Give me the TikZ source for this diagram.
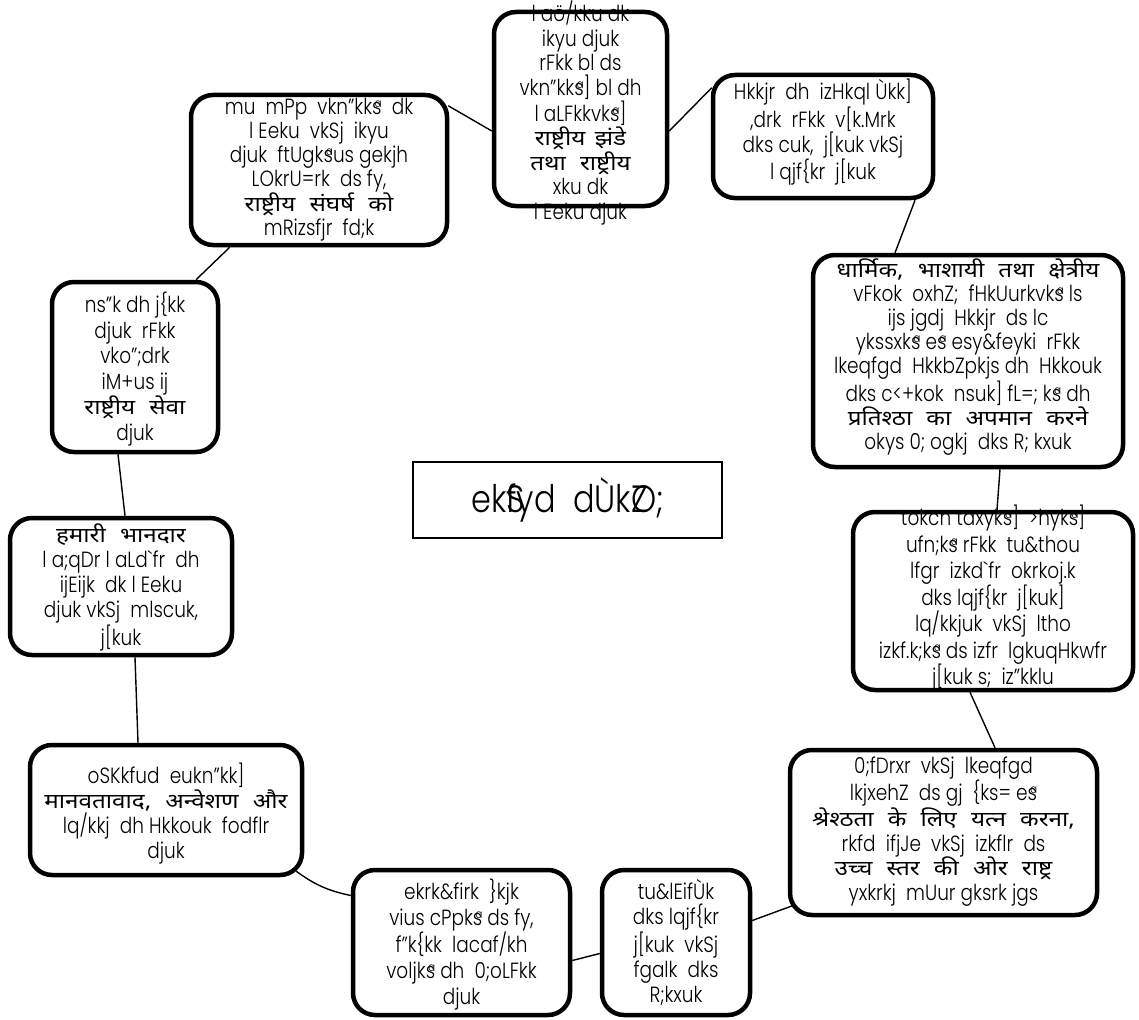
\documentclass[tikz,border=0pt]{standalone}
\usepackage{fontspec}
\usetikzlibrary{calc}
\newfontfamily\kd[FakeStretch=0.84]{Poppins Light}
\newfontfamily\dev[Script=Devanagari,Scale=0.95,FakeStretch=1.16,WordSpace=1.5]{Noto Sans}
\newcommand\hb[1]{{\dev\bfseries #1}}
% glyph drawn without advancing, as in the legacy-font rendering
\newcommand\z[1]{\rlap{#1}}
% small overlaid nasal mark
\newcommand\an{\llap{\raisebox{.32em}{\fontsize{12}{12}\selectfont a}}}
\begin{document}
\begin{tikzpicture}[x=1pt,y=-1pt,
  card/.style={draw,line width=4.5pt,rounded corners=22pt,inner sep=0pt},
  txt/.style={align=center,inner sep=0pt,font=\kd\fontsize{22}{#1}\selectfont},
  link/.style={line width=1.4pt}]
\useasboundingbox (0,0) rectangle (1139,1019);

% frames
\node[card,minimum width=173pt,minimum height=194pt] (n1) at (580.5,109) {};
\node[card,minimum width=220pt,minimum height=123pt] (n2) at (823,136.5) {};
\node[card,minimum width=256pt,minimum height=150pt] (n3) at (319,170) {};
\node[card,minimum width=166pt,minimum height=170pt] (n4) at (135,367) {};
\node[card,minimum width=310pt,minimum height=212pt] (n5) at (968,361) {};
\node[card,minimum width=222pt,minimum height=137pt] (n6) at (121,586.5) {};
\node[card,minimum width=280pt,minimum height=178pt] (n7) at (993,601) {};
\node[card,minimum width=272pt,minimum height=130pt] (n8) at (166,810) {};
\node[card,minimum width=307pt,minimum height=165pt] (n9) at (943.5,832.5) {};
\node[card,minimum width=217pt,minimum height=145pt] (n10) at (461.5,942.5) {};
\node[card,minimum width=148pt,minimum height=145pt] (n11) at (676,942.5) {};
\node[draw,line width=1.5pt,minimum width=309pt,minimum height=76pt,
      font=\kd\fontsize{38}{40}\selectfont] (ctr) at (567.5,500) {ek\z{S}fyd\ \ dÙk\z{Z}O;};

% texts
\node[txt=24.5] (t1) at ($(n1)+(0,4)$) {l aö/kku dk\\ ikyu djuk\\ rFkk bl ds\\ vkn”kks\an] bl dh\\ l aLFkkvks\an]\\
  \hb{राष्ट्रीय झंडे}\\ \hb{तथा राष्ट्रीय}\\ xku dk\\ l Eeku djuk};
\node[txt=21.7] (t2) at ($(n2)+(0,-4)$) {Hkkjr\ \ dh\ \ izHkql Ùkk]\\ ,drk\ \ rFkk\ \ v[k.Mrk\\ dks cuk,\ \ j[kuk vkSj\\ l qjf\{kr\ \ j[kuk};
\node[txt=24] (t3) at (n3) {mu\ \ mPp\ \ vkn”kks\an\ \ dk\\ l Eeku\ \ vkSj\ \ ikyu\\ djuk\ \ ftUgks\an us gekjh\\ LOkrU=rk\ \ ds fy,\\
  \hb{राष्ट्रीय संघर्ष को}\\ mRizsfjr\ \ fd;k};
\node[txt=25.6] (t4) at ($(n4)+(0,2)$) {ns”k dh j\{kk\\ djuk\ \ rFkk\\ vko”;drk\\ iM+us ij\\ \hb{राष्ट्रीय सेवा}\\ djuk};
\node[txt=24] (t5) at ($(n5)+(0,-4)$) {\hb{धार्मिक, भाशायी तथा क्षेत्रीय}\\ vFkok\ \ oxhZ;\ \ fHkUurkvks\an\ ls\\ ijs\ jgdj\ \ Hkkjr\ \ ds\ lc\\
  ykssxks\an\ es\an\ esy\&feyki\ \ rFkk\\ lkeqfgd\ \ HkkbZpkjs\ dh\ \ Hkkouk\\ dks c<+kok\ \ nsuk]\ fL=;\ ks\an\ dh\\
  \hb{प्रतिश्ठा का अपमान करने}\\ okys\ 0;\ ogkj\ \ dks\ R;\ kxuk};
\node[txt=25] (t6) at ($(n6)+(0,1)$) {\hb{हमारी भानदार}\\ l a;qDr\ l aLd`fr\ \ dh\\ ijEijk\ \ dk\ l Eeku\\ djuk\ vkSj\ \ mlscuk,\\ j[kuk};
\node[txt=26.5] (t7) at ($(n7)+(0,-3)$) {tokcn\ taxyks\an]\ \ >hyks\an]\\ ufn;ks\an\ rFkk\ \ tu\&thou\\ lfgr\ \ izkd`fr\ \ okrkoj.k\\
  dks\ lqjf\{kr\ \ j[kuk]\\ lq/kkjuk\ \ vkSj\ \ ltho\\ izkf.k;ks\an\ ds\ izfr\ \ lgkuqHkwfr\\ j[kuk\ s;\ \ iz”kklu};
\node[txt=25] (t8) at ($(n8)+(0,4)$) {oSKkfud\ \ eukn”kk]\\ \hb{मानवतावाद, अन्वेशण और}\\ lq/kkj\ \ dh\ Hkkouk\ \ fodflr\\ djuk};
\node[txt=24.6] (t9) at ($(n9)+(0,-1)$) {0;fDrxr\ \ vkSj\ \ lkeqfgd\\ lkjxehZ\ \ ds gj\ \ \{ks=\ es\an\\
  \hb{श्रेश्ठता के लिए यत्न करना,}\\ rkfd\ \ ifjJe\ \ vkSj\ \ izkflr\ \ ds\\ \hb{उच्च स्तर की ओर राष्ट्र}\\ yxkrkj\ \ mUur\ gksrk\ jgs};
\node[txt=26] (t10) at ($(n10)+(0,2)$) {ekrk\&firk\ \ \}kjk\\ vius\ cPpks\an\ ds fy,\\ f”k\{kk\ \ lacaf/kh\\ voljks\an\ dh\ \ 0;oLFkk\\ djuk};
\node[txt=25] (t11) at (n11) {tu\&lEifÙk\\ dks\ lqjf\{kr\\ j[kuk\ \ vkSj\\ fgalk\ \ dks\\ R;kxuk};

% ring of connectors
\draw[link] ($(n1.east)+(0,22)$) -- ($(n2.north west)+(1,15)$);
\draw[link] ($(n3.north east)+(-1,13)$) -- ($(n1.west)+(0,22)$);
\draw[link] ($(n3.south west)+(41,0)$) -- ($(n4.north)+(61,0)$);
\draw[link] ($(n4.south)+(-17,0)$) -- ($(n6.north)+(4,0)$);
\draw[link] ($(n6.south)+(14,0)$) -- ($(n8.north)+(-28,0)$);
\draw[link] ($(n8.south east)+(-8,-6)$) to[bend right=12] ($(n10.west)+(0,-47)$);
\draw[link] ($(n10.east)+(0,18)$) -- ($(n11.west)+(0,11)$);
\draw[link] ($(n11.east)+(0,-22)$) -- ($(n9.south west)+(6,-12)$);
\draw[link] ($(n9.north)+(51.5,0)$) -- ($(n7.south)+(-23,0)$);
\draw[link] ($(n7.north)+(4,0)$) -- ($(n5.south)+(32,0)$);
\draw[link] ($(n5.north)+(-73,0)$) -- ($(n2.south)+(92,0)$);
\end{tikzpicture}
\end{document}
